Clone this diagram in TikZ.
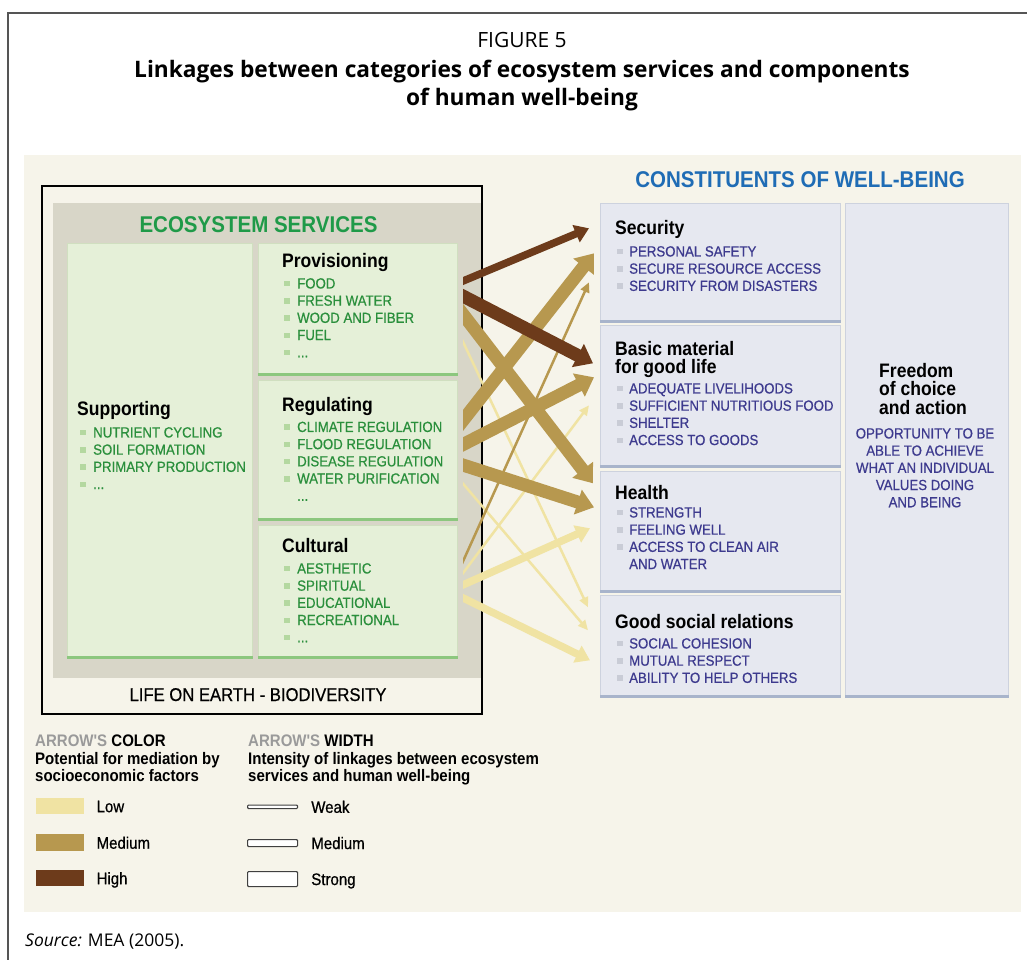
\documentclass[tikz,border=0pt]{standalone}
\usepackage{fontspec}
\setmainfont{Open Sans}
\newfontfamily\hv[FakeStretch=0.9]{Liberation Sans}
\newfontfamily\hvm[FakeStretch=0.9,FakeBold=0.6]{Liberation Sans}
\usetikzlibrary{arrows.meta,calc,positioning}
\definecolor{beige}{HTML}{F6F4EA}
\definecolor{panelgray}{HTML}{D8D6C8}
\definecolor{ecofill}{HTML}{E5F0D8}
\definecolor{ecoedge}{HTML}{D0DFC0}
\definecolor{ecogreen}{HTML}{8CC77E}
\definecolor{ecotext}{HTML}{2A8F3C}
\definecolor{ecotitle}{HTML}{1F9A48}
\definecolor{ecobul}{HTML}{B4D8A0}
\definecolor{consfill}{HTML}{E6E8F0}
\definecolor{consedge}{HTML}{CDD2DE}
\definecolor{consline}{HTML}{A8B4CB}
\definecolor{constext}{HTML}{3D3A8E}
\definecolor{consbul}{HTML}{C9CCD6}
\definecolor{constitle}{HTML}{1F6CB5}
\definecolor{lowpot}{HTML}{F0E3A3}
\definecolor{medpot}{HTML}{B7984F}
\definecolor{highpot}{HTML}{6D3B1B}
\definecolor{leggray}{HTML}{9A9A9A}
\definecolor{framec}{HTML}{555555}
\tikzset{
  ecobox/.style={anchor=north west, inner sep=0pt, fill=ecofill, draw=ecoedge, line width=0.6pt},
  consbox/.style={anchor=north west, inner sep=0pt, fill=consfill, draw=consedge, line width=0.6pt},
  ecoline/.style={draw=ecogreen, line width=3pt},
  consbar/.style={draw=consline, line width=3pt},
  boxhead/.style={anchor=base west, inner sep=0pt, font=\hv\bfseries\fontsize{19.5}{18.5}\selectfont},
  ecolist/.style={anchor=north west, inner sep=0pt, align=left, text=ecotext,
    font=\hvm\fontsize{14.7}{17.2}\selectfont},
  conslist/.style={ecolist, text=constext},
  swatch/.style={anchor=north west, inner sep=0pt, minimum width=48pt},
  widthbox/.style={anchor=north west, inner sep=0pt, minimum width=50pt, fill=white,
    draw=black!75, line width=1.1pt, rounded corners=1pt},
  legtext/.style={inner sep=0pt, text height=12pt, text depth=0pt, font=\hvm\fontsize{16.7}{17.5}\selectfont},
  leghead/.style={anchor=north west, inner sep=0pt, align=left, font=\hv\bfseries\fontsize{16.7}{17.5}\selectfont},
  weaklink/.style={line width=2.5pt, -{Triangle[length=10pt,width=9pt]}},
  mediumlink/.style={line width=7.5pt, -{Triangle[length=14pt,width=18pt]}},
  stronglink/.style={line width=13pt, -{Triangle[length=17pt,width=25pt]}}
}
\newcommand{\eb}{\makebox[13pt][l]{\textcolor{ecobul}{\rule[2pt]{6pt}{5.5pt}}}}
\newcommand{\cb}{\makebox[12pt][l]{\textcolor{consbul}{\rule[2pt]{6pt}{5.5pt}}}}
\begin{document}
\begin{tikzpicture}[x=1pt,y=-1pt]
  \useasboundingbox (0,0) rectangle (1027,960);
  \fill[white] (0,0) rectangle (1027,960);
  \draw[framec, line width=1.3pt] (1027,13) -- (8,13) -- (8,960);

  % title
  \node[anchor=base, inner sep=0pt, font=\fontsize{21}{24}\selectfont] (fig) at (522,47.5) {FIGURE 5};
  \node[anchor=north, inner sep=0pt, align=center, font=\bfseries\fontsize{22.7}{27.5}\selectfont] (title) at (522,60)
    {Linkages between categories of ecosystem services and components\\of human well-being};

  \fill[beige] (24,155) rectangle (1021,912);

  % ecosystem services
  \fill[panelgray] (53,203) rectangle (481,678);
  \draw[black, line width=1.8pt] (42,186) rectangle (482,714);
  \node[anchor=base, inner sep=0pt, text=ecotitle, font=\hv\bfseries\fontsize{22.8}{24}\selectfont] (es) at (258.5,232) {ECOSYSTEM SERVICES};
  \node[ecobox, minimum width=185pt, minimum height=415pt] (sup) at (67,243) {};
  \node[ecobox, minimum width=199pt, minimum height=132pt] (prov) at (258,243) {};
  \node[ecobox, minimum width=199pt, minimum height=140pt] (reg) at (258,380) {};
  \node[ecobox, minimum width=199pt, minimum height=133pt] (cult) at (258,525) {};
  \foreach \b in {sup,prov,reg,cult}
    \draw[ecoline] ([yshift=1.5pt]\b.south west) -- ([yshift=1.5pt]\b.south east);

  \node[boxhead] (suph) at (77,415) {Supporting};
  \node[ecolist] (suplist) at (80,427) {\eb NUTRIENT CYCLING\\\eb SOIL FORMATION\\\eb PRIMARY PRODUCTION\\\eb ...};
  \node[boxhead] (provh) at (282,267) {Provisioning};
  \node[ecolist] (provlist) at (284,278) {\eb FOOD\\\eb FRESH WATER\\\eb WOOD AND FIBER\\\eb FUEL\\\eb ...};
  \node[boxhead] (regh) at (282,411) {Regulating};
  \node[ecolist] (reglist) at (284,421.5) {\eb CLIMATE REGULATION\\\eb FLOOD REGULATION\\\eb DISEASE REGULATION\\\eb WATER PURIFICATION\\\hspace*{13pt}...};
  \node[boxhead] (culth) at (282,552) {Cultural};
  \node[ecolist] (cultlist) at (284,563) {\eb AESTHETIC\\\eb SPIRITUAL\\\eb EDUCATIONAL\\\eb RECREATIONAL\\\eb ...};
  \node[anchor=base, inner sep=0pt, font=\hvm\fontsize{18.5}{20}\selectfont] (life) at (258,701) {LIFE ON EARTH - BIODIVERSITY};

  % constituents of well-being
  \node[anchor=base, inner sep=0pt, text=constitle, font=\hv\bfseries\fontsize{22.8}{24}\selectfont] (cwb) at (800,188) {CONSTITUENTS OF WELL-BEING};
  \node[consbox, minimum width=240pt, minimum height=119pt] (sec) at (600,203) {};
  \node[consbox, minimum width=240pt, minimum height=142pt] (basic) at (600,325) {};
  \node[consbox, minimum width=240pt, minimum height=121pt] (health) at (600,471) {};
  \node[consbox, minimum width=240pt, minimum height=102pt] (good) at (600,595) {};
  \node[consbox, minimum width=163pt, minimum height=494pt] (free) at (845,203) {};
  \foreach \b in {sec,basic,health,good,free}
    \draw[consbar] ([yshift=1.5pt]\b.south west) -- ([yshift=1.5pt]\b.south east);

  \node[boxhead] (sech) at (615,234) {Security};
  \node[conslist] (seclist) at (617,246) {\cb PERSONAL SAFETY\\\cb SECURE RESOURCE ACCESS\\\cb SECURITY FROM DISASTERS};
  \node[boxhead, anchor=north west, align=left] (basich) at (615,341) {Basic material\\for good life};
  \node[conslist] (basiclist) at (617,383) {\cb ADEQUATE LIVELIHOODS\\\cb SUFFICIENT NUTRITIOUS FOOD\\\cb SHELTER\\\cb ACCESS TO GOODS};
  \node[boxhead] (healthh) at (615,499) {Health};
  \node[conslist] (healthlist) at (617,507) {\cb STRENGTH\\\cb FEELING WELL\\\cb ACCESS TO CLEAN AIR\\\hspace*{12pt}AND WATER};
  \node[boxhead] (goodh) at (615,628) {Good social relations};
  \node[conslist] (goodlist) at (617,638) {\cb SOCIAL COHESION\\\cb MUTUAL RESPECT\\\cb ABILITY TO HELP OTHERS};
  \node[boxhead, anchor=north west, align=left] (freeh) at (879,363) {Freedom\\of choice\\and action};
  \node[conslist, anchor=north, align=center] (freelist) at (925,428)
    {OPPORTUNITY TO BE\\ABLE TO ACHIEVE\\WHAT AN INDIVIDUAL\\VALUES DOING\\AND BEING};

  % linkages
  \begin{scope}
    \clip (463,150) rectangle (640,720);
    \draw[weaklink, lowpot] ([shift={(0,21)}]prov.east) -- ([shift={(-12,-39)}]good.west);
    \draw[weaklink, lowpot] ([shift={(0,27)}]reg.east) -- ([shift={(-12,-16)}]good.west);
    \draw[weaklink, lowpot] ([shift={(0,-11.5)}]cult.east) -- ([shift={(-11,9)}]basic.west);
    \draw[mediumlink, lowpot] ([shift={(0,-4.5)}]cult.east) -- ([shift={(-10,-3.5)}]health.west);
    \draw[mediumlink, lowpot] ([shift={(0,3.5)}]cult.east) -- ([shift={(-10,14)}]good.west);
    \draw[weaklink, medpot] ([shift={(0,-18.5)}]cult.east) -- ([shift={(-11,19.5)}]sec.west);
    \draw[stronglink, medpot] ([shift={(0,-2)}]prov.east) -- ([shift={(-7,-48.5)}]health.west);
    \draw[stronglink, medpot] ([shift={(0,-23)}]reg.east) -- ([shift={(-6,-9.5)}]sec.west);
    \draw[stronglink, medpot] ([shift={(0,-3)}]reg.east) -- ([shift={(-6,-19)}]basic.west);
    \draw[stronglink, medpot] ([shift={(0,13)}]reg.east) -- ([shift={(-6,-24.5)}]health.west);
    \draw[mediumlink, highpot] ([shift={(0,-26)}]prov.east) -- ([shift={(-11,-34.5)}]sec.west);
    \draw[stronglink, highpot] ([shift={(0,-16)}]prov.east) -- ([shift={(-7,-33)}]basic.west);
  \end{scope}

  % legend
  \node[leghead] (colhead) at (35,735) {\textcolor{leggray}{ARROW'S} COLOR\\Potential for mediation by\\socioeconomic factors};
  \node[leghead] (widhead) at (248,735) {\textcolor{leggray}{ARROW'S} WIDTH\\Intensity of linkages between ecosystem\\services and human well-being};
  \node[swatch, fill=lowpot, minimum height=16pt] (lowsw) at (35.5,798) {};
  \node[swatch, fill=medpot, minimum height=17pt] (medsw) at (35.5,834) {};
  \node[swatch, fill=highpot, minimum height=16pt] (highsw) at (35.5,870) {};
  \node[legtext, right=12.5pt of lowsw] (lowlab) {Low};
  \node[legtext, right=12.5pt of medsw] (medlab) {Medium};
  \node[legtext, right=12.5pt of highsw] (highlab) {High};
  \node[widthbox, minimum height=3.5pt] (weakbx) at (247,804.5) {};
  \node[widthbox, minimum height=7pt] (medbx) at (247,839) {};
  \node[widthbox, minimum height=15pt] (strongbx) at (247,871) {};
  \node[legtext, right=13pt of weakbx] (weaklab) {Weak};
  \node[legtext, right=13pt of medbx] (medwlab) {Medium};
  \node[legtext, right=13pt of strongbx] (stronglab) {Strong};

  \node[anchor=base west, inner sep=0pt, font=\fontsize{17.5}{20}\selectfont] (src) at (25,946) {\textit{Source:} MEA (2005).};
\end{tikzpicture}
\end{document}
